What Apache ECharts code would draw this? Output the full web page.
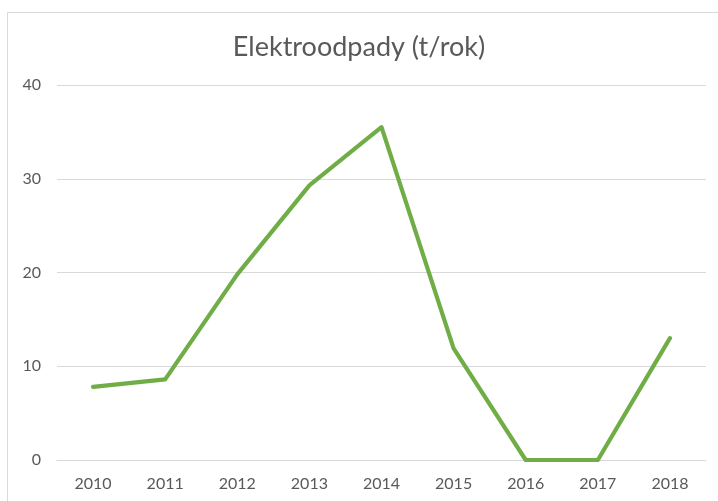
<!DOCTYPE html>
<html><head><meta charset="utf-8">
<script src="https://cdn.jsdelivr.net/npm/echarts@6/dist/echarts.min.js"></script>
<style>html,body{margin:0;padding:0;background:#fff}#c{width:718px;height:501px}</style>
</head><body><div id="c"></div>
<script>
const categories = ['2010','2011','2012','2013','2014','2015','2016','2017','2018'];
const values = [7.8, 8.6, 19.8, 29.3, 35.5, 11.9, 0, 0, 13.0];
const yTicks = {min: 0, max: 40, interval: 10};
const titleText = 'Elektroodpady (t/rok)';

const chart = echarts.init(document.getElementById('c'));
chart.setOption({
  animation: false,
  backgroundColor: '#fff',
  graphic: [{
    type: 'rect', shape: {x: 7.5, y: 12.5, width: 730, height: 520},
    style: {fill: 'none', stroke: '#d9d9d9', lineWidth: 1}, silent: true, z: -1
  }],
  title: {
    text: titleText, left: 'center', top: 29,
    textStyle: {fontFamily: 'Lato', fontSize: 27, fontWeight: 'normal', color: '#595959'}
  },
  grid: {left: 57, right: 12, top: 85, bottom: 41, containLabel: false},
  xAxis: {
    type: 'category', data: categories, boundaryGap: true,
    axisLine: {show: true, lineStyle: {color: '#d9d9d9'}},
    axisTick: {show: false},
    axisLabel: {color: '#595959', fontFamily: 'Lato', fontSize: 16, margin: 16}
  },
  yAxis: {
    type: 'value', min: yTicks.min, max: yTicks.max, interval: yTicks.interval,
    axisLine: {show: false}, axisTick: {show: false},
    splitLine: {lineStyle: {color: '#d9d9d9', width: 1}},
    axisLabel: {color: '#595959', fontFamily: 'Lato', fontSize: 16, margin: 16}
  },
  series: [{
    type: 'line', data: values, symbol: 'none',
    lineStyle: {color: '#70ad47', width: 4.2, cap: 'round', join: 'round'}
  }]
});
</script></body></html>
